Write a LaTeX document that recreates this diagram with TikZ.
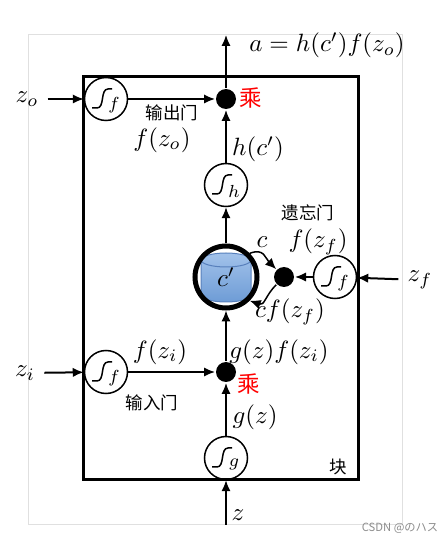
\documentclass[tikz,border=0pt]{standalone}
\usepackage{fontspec}
\usepackage{tikz}
\usetikzlibrary{arrows.meta}
\newfontfamily\cjk{Noto Sans CJK SC}
\newfontfamily\jpn{Noto Sans CJK JP}
\newcommand\U{0.4pt}
\definecolor{celltop}{RGB}{162,194,234}
\definecolor{cellbot}{RGB}{110,156,214}
\definecolor{celledge}{RGB}{88,128,188}

% sigmoid curve inside a gate, with its letter
\newcommand\sig[2]{%
  \draw[-,line width=0.6pt] ([shift={(-14,-9)}]#1.center) -- ++(5,0)
    .. controls +(8,0) and +(-8,0) .. ++(11,19) -- ++(4,0);
  \node[inner sep=0pt,font=\scriptsize] at ([shift={(8,-6)}]#1.center) {$#2$};}

\begin{document}
\begin{tikzpicture}[x=\U,y=\U,->,>={Latex[length=4.4pt,width=3.8pt]},
                    line width=0.8pt]

  \tikzstyle{gate}=[circle,draw,line width=0.6pt,minimum size=43*\U,inner sep=0pt]
  \tikzstyle{mult}=[circle,fill,minimum size=20*\U,inner sep=0pt]
  \tikzstyle{zh}=[font={\cjk\fontsize{7}{8}\selectfont}]
  \tikzstyle{cheng}=[text=red,font={\cjk\fontsize{9}{10}\selectfont}]

  \useasboundingbox (0,0) rectangle (445,541);
  \draw[-,black!12,line width=0.4pt] (28,16) rectangle (402,506);
  \draw[-,line width=1.2pt] (83,61) rectangle (358,464);

  % memory cell
  \shade[top color=celltop,bottom color=cellbot] (201,281) -- (201,246)
    arc[start angle=180,end angle=360,x radius=25,y radius=7] -- (251,281)
    arc[start angle=0,end angle=180,x radius=25,y radius=7] -- cycle;
  \draw[-,celledge,line width=0.4pt] (226,281) ellipse [x radius=25,y radius=7];
  \draw[-,celledge,line width=0.4pt] (201,281) -- (201,246)
    arc[start angle=180,end angle=360,x radius=25,y radius=7] -- (251,281);

  \node[circle,draw,line width=2pt,minimum size=62*\U] (cp) at (226,264) {$c'$};

  \node[gate] (og) at (106,442) {};
  \node[mult] (om) at (226,442) {};
  \node[gate] (hg) at (226,356) {};
  \node[mult] (fm) at (284,264) {};
  \node[gate] (fg) at (335,264) {};
  \node[gate] (ig) at (106,169) {};
  \node[mult] (im) at (226,169) {};
  \node[gate] (gg) at (226,83) {};
  \sig{og}{f} \sig{hg}{h} \sig{fg}{f} \sig{ig}{f} \sig{gg}{g}

  \node (zo)  at (27,442)  {$z_o$};
  \node (zf)  at (420,261) {$z_f$};
  \node (zin) at (25,168)  {$z_i$};
  \node (z)   at (238,26)  {$z$};
  \coordinate (top) at (226,506);
  \coordinate (bot) at (226,16);

  \node[anchor=west] (a) at (240,496) {$a=h(c')f(z_o)$};
  \node[cheng] (m1) at (251,443) {乘};
  \node[zh]    (og1) at (172,428) {输出门};
  \node (fzo)  at (162,401) {$f(z_o)$};
  \node (hc)   at (258,392) {$h(c')$};
  \node[zh]    (fg1) at (308,328) {遗忘门};
  \node (fzf)  at (318,299) {$f(z_f)$};
  \node (c)    at (262,299) {$c$};
  \node (cfz)  at (290,229) {$cf(z_f)$};
  \node (fzi)  at (160,189) {$f(z_i)$};
  \node (gf)   at (279,189) {$g(z)f(z_i)$};
  \node[zh]    (ig1) at (152,138) {输入门};
  \node[cheng] (m2) at (249,157) {乘};
  \node (gz)   at (255,124) {$g(z)$};
  \node[zh]    (blk) at (338,74) {块};
  \node[text=black!45,font={\jpn\fontsize{4.5}{5}\selectfont}] (wm) at (400,13) {CSDN @のハス};

  \path
  (zo)  edge (og)
  (og)  edge (om)
  (om)  edge (top)
  (hg)  edge (om)
  (cp)  edge (hg)
  (im)  edge (cp)
  (gg)  edge (im)
  (bot) edge (gg)
  (zin) edge (ig)
  (ig)  edge (im)
  (zf)  edge (fg)
  (fg)  edge (fm)
  (cp.45) edge [line width=0.6pt,out=20,in=135,looseness=1.3] (fm)
  (fm)  edge [line width=0.6pt,out=-135,in=-20,looseness=1.3] (cp.-45)
  ;
\end{tikzpicture}
\end{document}
